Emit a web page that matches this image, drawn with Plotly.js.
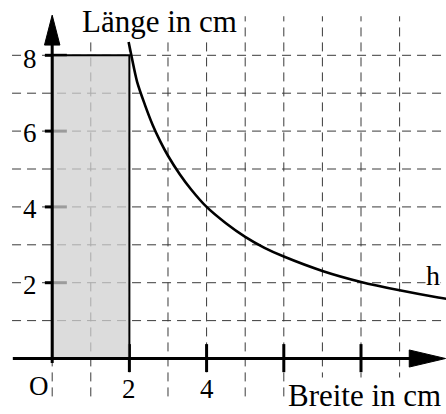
<!DOCTYPE html>
<html>
<head>
<meta charset="utf-8">
<script src="https://cdn.plot.ly/plotly-3.0.1.min.js"></script>
<style>html,body{margin:0;padding:0;background:#fff;}#chart{width:446px;height:414px;}</style>
</head>
<body>
<div id="chart"></div>
<script>
// ---- data ----
const gridXs = [0, 1, 2, 3, 4, 5, 6, 7, 8, 9];
const gridYs = [1, 2, 3, 4, 5, 6, 7, 8];
const xTickVals = [2, 4, 6, 8];
const yTickVals = [2, 4, 6, 8];
const xLabelVals = [2, 4];
const xLabelText = ['2', '4'];
const yLabelVals = [2, 4, 6, 8];
const yLabelText = ['2', '4', '6', '8'];
const rectX = [0, 0, 2, 2, 0];
const rectY = [0, 8, 8, 0, 0];
const curveX = [1.98, 2.05, 2.2, 2.4, 2.6, 2.8, 3.0, 3.3, 3.6, 4.0, 4.5, 5.0, 5.5, 6.0, 7.0, 8.0, 9.0, 10.0, 10.25];
const curveY = [8.35, 8.0, 7.3, 6.7, 6.17, 5.73, 5.35, 4.87, 4.46, 4.0, 3.57, 3.21, 2.92, 2.69, 2.31, 2.02, 1.8, 1.61, 1.57];

// ---- view ----
const xRange = [-1.352, 10.202];
const yRange = [-1.464, 9.459];
const serif = 'Liberation Serif';

const shapes = [];
// grid
gridXs.forEach(v => shapes.push({type:'line', layer:'below', x0:v, x1:v, y0:-1.0, y1:9.03,
  line:{color:'#3a3a3a', width:1, dash:'9px,6px'}}));
gridYs.forEach(v => shapes.push({type:'line', layer:'below', x0:-1.04, x1:xRange[1], y0:v, y1:v,
  line:{color:'#3a3a3a', width:1, dash:'9px,6px'}}));
// ticks
yTickVals.forEach(v => shapes.push({type:'line', layer:'below', x0:-0.19, x1:0.38, y0:v, y1:v,
  line:{color:'#000', width:3}}));
xTickVals.forEach(v => shapes.push({type:'line', layer:'below', x0:v, x1:v, y0:-0.36, y1:0.38,
  line:{color:'#000', width:3}}));
// axes
shapes.push({type:'line', layer:'above', x0:-1.02, x1:9.35, y0:0, y1:0, line:{color:'#000', width:3}});
shapes.push({type:'line', layer:'above', x0:0, x1:0, y0:-0.12, y1:8.35, line:{color:'#000', width:3}});
// arrow heads
const xt = 10.19, xb = 9.25, hw = 0.225;
shapes.push({type:'path', layer:'above', path:`M ${xb},${-hw} L ${xt},0 L ${xb},${hw} Z`,
  fillcolor:'#000', line:{color:'#000', width:1}});
const yt = 9.06, yb = 8.27, vw = 0.2;
shapes.push({type:'path', layer:'above', path:`M ${-vw},${yb} L 0,${yt} L ${vw},${yb} Z`,
  fillcolor:'#000', line:{color:'#000', width:1}});

const annotations = [];
yLabelVals.forEach((v, i) => annotations.push({x:-0.57, y:v, yshift: v === 8 ? -4 : -2, text:yLabelText[i],
  showarrow:false, xanchor:'center', yanchor:'middle', bgcolor:'#fff', borderpad:1,
  font:{family:serif, size:27, color:'#000'}}));
xLabelVals.forEach((v, i) => annotations.push({x:v, y:-0.80, text:xLabelText[i],
  showarrow:false, xanchor:'center', yanchor:'middle', bgcolor:'#fff', borderpad:1,
  font:{family:serif, size:27, color:'#000'}}));
annotations.push({x:-0.34, y:-0.73, text:'O', showarrow:false, xanchor:'center', yanchor:'middle',
  bgcolor:'#fff', font:{family:serif, size:27, color:'#000'}});
annotations.push({x:2.77, y:8.88, text:'Länge in cm', showarrow:false, xanchor:'center', yanchor:'middle',
  bgcolor:'#fff', borderpad:0, font:{family:serif, size:31, color:'#000'}});
annotations.push({x:8.1, y:yRange[0], text:'Breite in cm', showarrow:false, xanchor:'center', yanchor:'bottom',
  bgcolor:'#fff', borderpad:0, font:{family:serif, size:31, color:'#000'}});
annotations.push({x:9.86, y:2.2, text:'h', showarrow:false, xanchor:'center', yanchor:'middle',
  bgcolor:'#fff', borderpad:0, font:{family:serif, size:28, color:'#000'}});

const traces = [
  {x:rectX, y:rectY, type:'scatter', mode:'lines', fill:'toself',
   fillcolor:'rgba(208,208,208,0.75)', line:{color:'#000', width:2}, hoverinfo:'skip'},
  {x:curveX, y:curveY, type:'scatter', mode:'lines', line:{color:'#000', width:2.6, shape:'spline', smoothing:0.8},
   hoverinfo:'skip'}
];

const layout = {
  width:446, height:414,
  margin:{l:0, r:0, t:0, b:0},
  paper_bgcolor:'#fff', plot_bgcolor:'#fff',
  showlegend:false,
  font:{family:serif, color:'#000'},
  xaxis:{range:xRange, visible:false, fixedrange:true},
  yaxis:{range:yRange, visible:false, fixedrange:true},
  shapes:shapes,
  annotations:annotations
};

Plotly.newPlot('chart', traces, layout, {displayModeBar:false, staticPlot:true});
</script>
</body>
</html>
